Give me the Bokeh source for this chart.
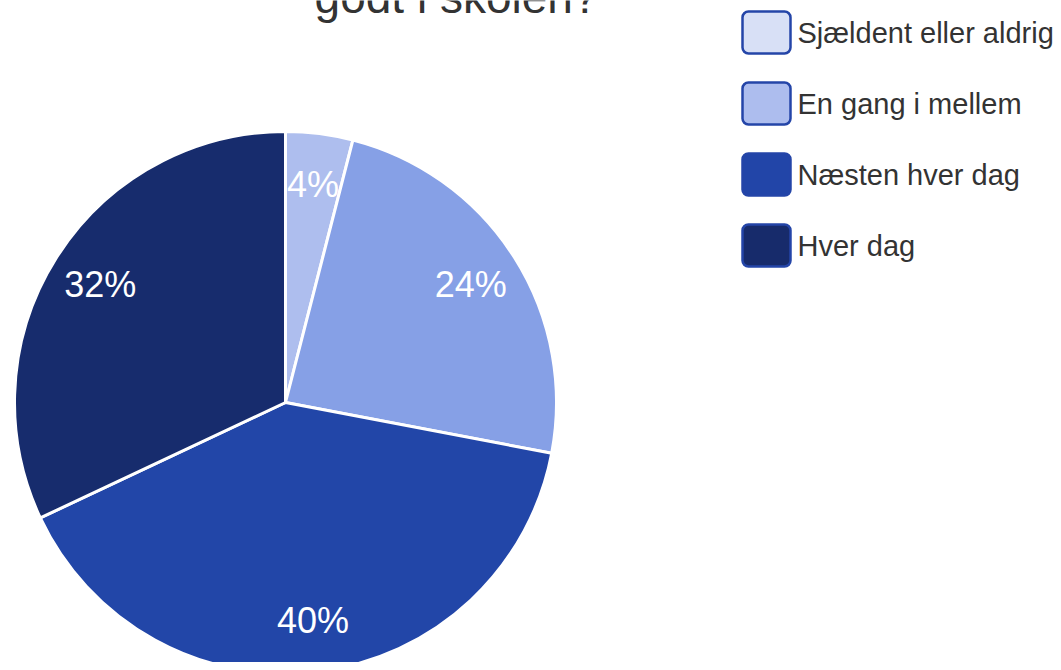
import math
from bokeh.plotting import figure
from bokeh.models import ColumnDataSource, Range1d
from bokeh.core.properties import value
from bokeh.embed import file_html
from bokeh.resources import INLINE

# ---- data ----
title_text = "godt i skolen?"
slice_values = [4, 24, 40, 32]
slice_colors = ["#aebeee", "#86a0e6", "#2246a8", "#172c6d"]
legend_labels = ["Sjældent eller aldrig", "En gang i mellem", "Næsten hver dag", "Hver dag"]
legend_colors = ["#d8e0f6", "#adbdee", "#2245a8", "#172b6b"]

# ---- layout (reference pixel coordinates) ----
W, H = 1053, 662
REF_H = 670

def fy(Y):
    return REF_H - Y

p = figure(width=W, height=H, output_backend="svg", toolbar_location=None,
           x_range=Range1d(0, W), y_range=Range1d(REF_H - H, REF_H),
           min_border=0, outline_line_color=None)
p.axis.visible = False
p.grid.visible = False
p.background_fill_color = "white"
p.border_fill_color = "white"

FONT = value("Liberation Sans")

# pie
cx, cy, r = 285, fy(402), 271
total = sum(slice_values)
starts, ends, lx, ly, labels = [], [], [], [], []
cum = 0.0
for v in slice_values:
    a0 = math.pi / 2 - 2 * math.pi * cum / total
    cum += v
    a1 = math.pi / 2 - 2 * math.pi * cum / total
    starts.append(a0)
    ends.append(a1)
    mid = (a0 + a1) / 2
    lx.append(cx + 0.81 * r * math.cos(mid))
    ly.append(cy + 0.81 * r * math.sin(mid))
    labels.append(f"{round(100 * v / total)}%")

src = ColumnDataSource(dict(x=[cx] * len(slice_values), y=[cy] * len(slice_values),
                            start=starts, end=ends, color=slice_colors,
                            lx=lx, ly=ly, label=labels))
p.wedge(x="x", y="y", radius=r, start_angle="start", end_angle="end", direction="clock",
        fill_color="color", line_color="white", line_width=3, source=src)
p.text(x="lx", y="ly", text="label", source=src, text_color="white",
       text_font=FONT, text_font_size="36px", text_align="center",
       text_baseline="middle")

# title (its first line lies above the visible area)
p.text(x=[456], y=[fy(13) + 0.358 * 46], text=[title_text], text_color="#333333",
       text_font=FONT, text_font_size="46px", text_align="center",
       text_baseline="middle")

# legend
centers = [32 + 71 * i for i in range(len(legend_labels))]
lsrc = ColumnDataSource(dict(
    left=[742] * len(centers), right=[790] * len(centers),
    top=[fy(c - 21) for c in centers], bottom=[fy(c + 21) for c in centers],
    color=legend_colors, tx=[797] * len(centers),
    ty=[fy(c) for c in centers], label=legend_labels))
p.quad(left="left", right="right", top="top", bottom="bottom", fill_color="color",
       line_color="#2445a8", line_width=2.5, border_radius=6, source=lsrc)
p.text(x="tx", y="ty", text="label", source=lsrc, text_color="#333333", text_font=FONT,
       text_font_size="29px", text_align="left", text_baseline="middle")

open("out.html", "w").write(file_html(p, INLINE))
